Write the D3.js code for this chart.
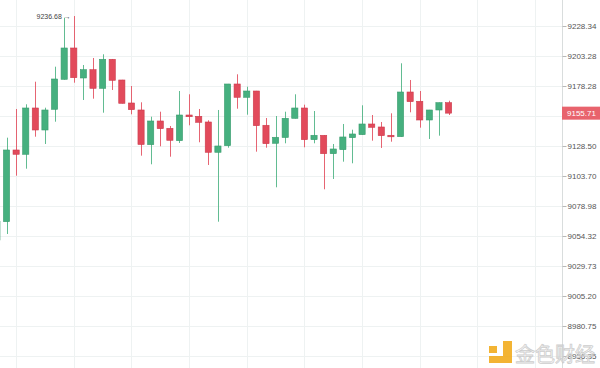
<!DOCTYPE html>
<html>
<head>
<meta charset="utf-8">
<script src="https://cdn.jsdelivr.net/npm/d3@7"></script>
<style>
  body { margin: 0; background: #fff; }
  svg { display: block; font-family: "Liberation Sans", Arial, sans-serif; }
</style>
</head>
<body>
<div class="chart"></div>
<script>
var svgWidth = 600;
var svgHeight = 368;

// candle data (first candle is cut by the left edge)
var openV  = [9051.04, 9066.07, 9125.19, 9121.64, 9160.00, 9141.75, 9158.92, 9183.86, 9209.96, 9184.95,
              9191.86, 9176.37, 9200.53, 9183.28, 9164.15, 9158.34, 9129.58, 9149.21, 9143.16, 9132.89,
              9154.18, 9153.10, 9148.38, 9123.29, 9128.75, 9179.95, 9168.89, 9174.12, 9145.65, 9130.74,
              9135.54, 9151.44, 9160.00, 9133.72, 9137.36, 9122.13, 9125.44, 9135.38, 9137.86, 9146.72,
              9144.24, 9137.36, 9136.20, 9173.29, 9165.57, 9150.04, 9158.34, 9164.40];
var highV  = [9066.50, 9135.38, 9159.17, 9163.07, 9181.86, 9160.25, 9194.36, 9235.27, 9236.68, 9195.78,
              9201.61, 9204.70, 9200.78, 9183.40, 9178.28, 9164.73, 9152.77, 9156.92, 9145.07, 9174.12,
              9171.38, 9159.17, 9149.79, 9158.34, 9180.00, 9188.03, 9177.70, 9174.20, 9151.69, 9153.35,
              9156.92, 9171.38, 9162.74, 9157.50, 9137.50, 9130.16, 9146.72, 9142.00, 9162.24, 9154.18,
              9148.38, 9155.59, 9197.20, 9183.28, 9174.12, 9158.40, 9164.50, 9166.06];
var lowV   = [9048.58, 9055.96, 9103.95, 9109.73, 9136.20, 9130.16, 9148.63, 9183.60, 9181.03, 9166.65,
              9167.73, 9156.09, 9174.96, 9163.80, 9154.76, 9120.48, 9113.37, 9128.25, 9119.65, 9130.98,
              9145.65, 9131.57, 9112.79, 9066.07, 9127.09, 9159.42, 9154.43, 9123.79, 9127.09, 9094.39,
              9130.74, 9151.30, 9127.43, 9130.74, 9092.74, 9101.23, 9115.52, 9114.20, 9137.80, 9132.89,
              9126.85, 9132.06, 9136.10, 9156.42, 9143.66, 9134.30, 9137.03, 9154.18];
var closeV = [9066.07, 9125.19, 9121.64, 9160.00, 9141.75, 9158.34, 9184.11, 9209.96, 9185.20, 9191.86,
              9176.37, 9200.53, 9183.03, 9163.90, 9158.59, 9129.74, 9149.21, 9142.83, 9133.22, 9154.18,
              9152.77, 9148.13, 9123.29, 9128.50, 9179.95, 9168.89, 9174.12, 9145.32, 9130.41, 9135.71,
              9151.44, 9160.00, 9133.72, 9137.36, 9122.13, 9126.02, 9135.96, 9138.44, 9146.72, 9143.99,
              9137.03, 9136.20, 9173.29, 9165.23, 9150.04, 9158.34, 9164.40, 9155.71];

// right axis labels (log spaced); 9153.35 sits under the last-price tag
var priceTicks = ["9228.34", "9203.28", "9178.28", "9153.35", "9128.50", "9103.70",
                  "9078.98", "9054.32", "9029.73", "9005.20", "8980.75", "8956.35"];
var hiddenTick = "9153.35";
// candle slots that carry a vertical grid line
var gridSlots = [2, 8, 14, 20, 26, 32, 38, 44, 50, 56];
var maxLabel = "9236.68";
var lastLabel = "9155.71";
var watermark = "金色财经";

var plotRight = 562;
var green = "#46b07f", greenDark = "#3a9c6e";
var red = "#e24a5b", redDark = "#cc3c4d";

var candles = openV.map(function(o, i) {
  return { i: i, open: o, high: highV[i], low: lowV[i], close: closeV[i] };
});

var svg = d3.select(".chart")
  .append("svg")
  .attr("width", svgWidth)
  .attr("height", svgHeight);

var x = d3.scaleLinear()
  .domain([0, 58])
  .range([-3.1, -3.1 + 58 * 9.61]);

var y = d3.scaleLog()
  .domain([8956.35, 9228.34])
  .range([356, 26]);

var bodyW = 6.2;

// grid
svg.append("g").selectAll("line")
  .data(priceTicks)
  .enter().append("line")
  .attr("x1", 0).attr("x2", plotRight)
  .attr("y1", d => Math.round(y(+d)) + 0.5)
  .attr("y2", d => Math.round(y(+d)) + 0.5)
  .attr("stroke", "#eef2f2");

svg.append("g").selectAll("line")
  .data(gridSlots)
  .enter().append("line")
  .attr("x1", d => Math.round(x(d)) + 0.5)
  .attr("x2", d => Math.round(x(d)) + 0.5)
  .attr("y1", 0).attr("y2", svgHeight)
  .attr("stroke", "#eef2f2");

// right axis
var rightAxis = d3.axisRight(y)
  .tickValues(priceTicks.map(Number))
  .tickSize(4)
  .tickFormat(d => d3.format(".2f")(d) === hiddenTick ? "" : d3.format(".2f")(d));

var axisG = svg.append("g")
  .attr("transform", `translate(${plotRight + 0.5},0)`)
  .call(rightAxis);
axisG.select(".domain").attr("stroke", "#d9dddd").attr("d", `M0,0V${svgHeight}`);
axisG.selectAll(".tick line").attr("stroke", "#b8b8b8");
axisG.selectAll(".tick text")
  .attr("x", 5)
  .attr("fill", "#555")
  .style("font-size", "8px");

// candles
var cg = svg.append("g");
cg.selectAll("line.wick")
  .data(candles)
  .enter().append("line")
  .attr("class", "wick")
  .attr("x1", d => Math.round(x(d.i)) + 0.5)
  .attr("x2", d => Math.round(x(d.i)) + 0.5)
  .attr("y1", d => y(d.high))
  .attr("y2", d => y(d.low))
  .attr("stroke", d => d.close >= d.open ? green : red)
  .attr("stroke-opacity", 0.85)
  .attr("stroke-width", 1);

cg.selectAll("rect.body")
  .data(candles)
  .enter().append("rect")
  .attr("class", "body")
  .attr("x", d => x(d.i) - bodyW / 2)
  .attr("width", bodyW)
  .attr("y", d => y(Math.max(d.open, d.close)))
  .attr("height", d => Math.max(1.5, Math.abs(y(d.open) - y(d.close))))
  .attr("fill", d => d.close >= d.open ? green : red)
  .attr("stroke", d => d.close >= d.open ? greenDark : redDark)
  .attr("stroke-width", 0.6);

// highest price marker
var maxCandle = candles.reduce((a, b) => b.high > a.high ? b : a);
svg.append("text")
  .attr("x", x(maxCandle.i) - 3)
  .attr("y", y(maxCandle.high) + 2.5)
  .attr("text-anchor", "end")
  .attr("fill", "#444")
  .style("font-size", "7px")
  .text(maxLabel + " \u2192");

// last price tag
var lastY = y(closeV[closeV.length - 1]);
svg.append("rect")
  .attr("x", plotRight)
  .attr("y", lastY - 6.5)
  .attr("width", svgWidth - plotRight)
  .attr("height", 13)
  .attr("fill", "#e8636d");
svg.append("text")
  .attr("x", plotRight + 5)
  .attr("y", lastY + 3)
  .attr("fill", "#fff")
  .style("font-size", "8px")
  .text(lastLabel);

// watermark
var wm = svg.append("g").attr("opacity", 0.9);
wm.append("rect").attr("x", 489).attr("y", 346).attr("width", 8).attr("height", 7).attr("fill", "#f2ac1f");
wm.append("path")
  .attr("d", "M503,341 H512 V363 H489 V356 H503 Z")
  .attr("fill", "#f2ac1f");
wm.append("text")
  .attr("x", 515)
  .attr("y", 362)
  .attr("fill", "#ffffff")
  .attr("fill-opacity", 0.6)
  .attr("stroke", "#c8c8c8")
  .attr("stroke-width", 0.8)
  .style("font-family", "'Noto Sans CJK SC', sans-serif")
  .style("font-size", "20px")
  .text(watermark);
</script>
</body>
</html>
